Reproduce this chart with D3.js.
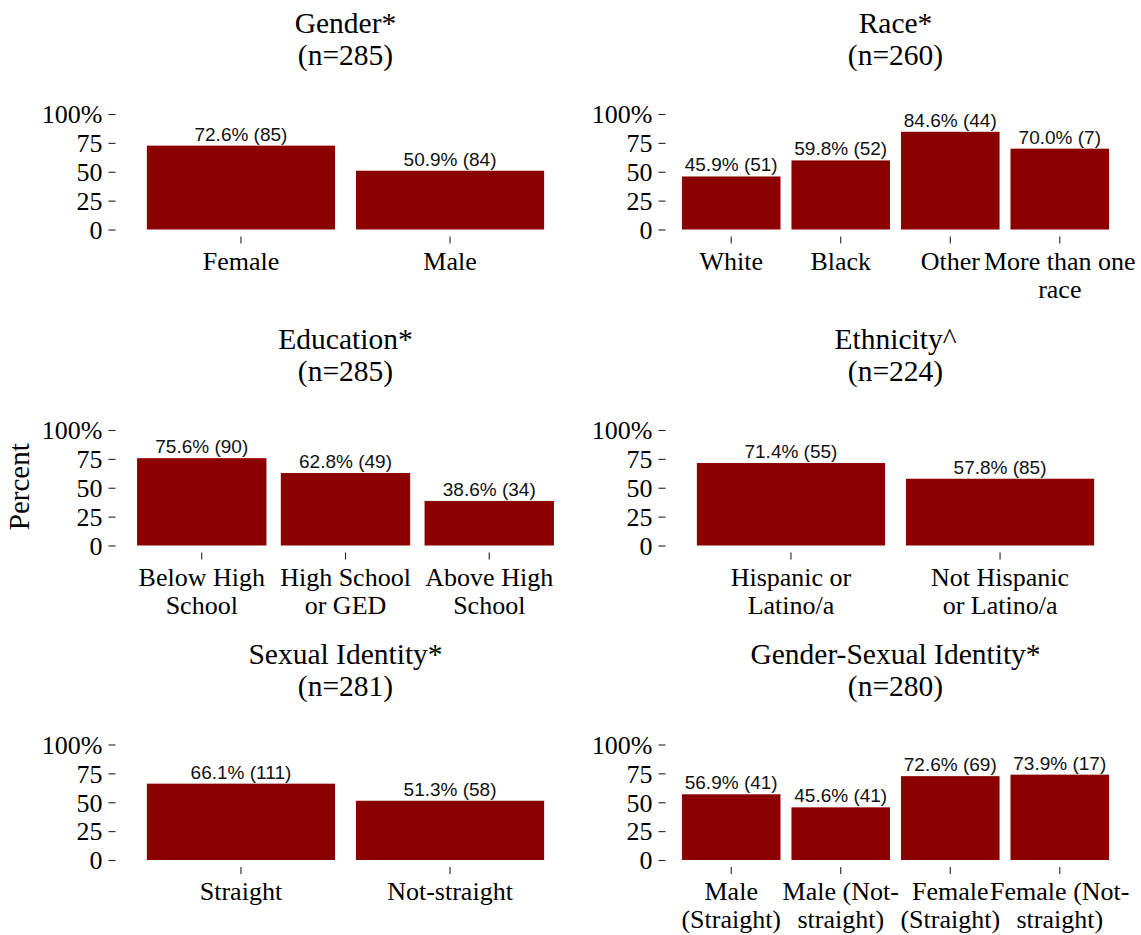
<!DOCTYPE html>
<html>
<head>
<meta charset="utf-8">
<script src="https://cdn.jsdelivr.net/npm/d3@7"></script>
<style>
  html, body { margin: 0; padding: 0; background: #fff; }
  svg { display: block; }
</style>
</head>
<body>
<svg id="chart" width="1141" height="935"></svg>
<script>
// ---- data ----
const genderTitle = "Gender*", genderN = 285;
const genderCats = ["Female", "Male"];
const genderVals = [72.6, 50.9];
const genderCounts = [85, 84];

const raceTitle = "Race*", raceN = 260;
const raceCats = ["White", "Black", "Other", "More than one\nrace"];
const raceVals = [45.9, 59.8, 84.6, 70.0];
const raceCounts = [51, 52, 44, 7];

const eduTitle = "Education*", eduN = 285;
const eduCats = ["Below High\nSchool", "High School\nor GED", "Above High\nSchool"];
const eduVals = [75.6, 62.8, 38.6];
const eduCounts = [90, 49, 34];

const ethTitle = "Ethnicity^", ethN = 224;
const ethCats = ["Hispanic or\nLatino/a", "Not Hispanic\nor Latino/a"];
const ethVals = [71.4, 57.8];
const ethCounts = [55, 85];

const sexTitle = "Sexual Identity*", sexN = 281;
const sexCats = ["Straight", "Not-straight"];
const sexVals = [66.1, 51.3];
const sexCounts = [111, 58];

const gsTitle = "Gender-Sexual Identity*", gsN = 280;
const gsCats = ["Male\n(Straight)", "Male (Not-\nstraight)", "Female\n(Straight)", "Female (Not-\nstraight)"];
const gsVals = [56.9, 45.6, 72.6, 73.9];
const gsCounts = [41, 41, 69, 17];

const yTicks = [0, 25, 50, 75, 100];
const yTickLabels = ["0", "25", "50", "75", "100%"];
const yAxisTitle = "Percent";

// ---- layout ----
const panels = [
  {title: genderTitle, n: genderN, cats: genderCats, vals: genderVals, counts: genderCounts, col: 0, row: 0},
  {title: raceTitle, n: raceN, cats: raceCats, vals: raceVals, counts: raceCounts, col: 1, row: 0},
  {title: eduTitle, n: eduN, cats: eduCats, vals: eduVals, counts: eduCounts, col: 0, row: 1, yTitle: true},
  {title: ethTitle, n: ethN, cats: ethCats, vals: ethVals, counts: ethCounts, col: 1, row: 1},
  {title: sexTitle, n: sexN, cats: sexCats, vals: sexVals, counts: sexCounts, col: 0, row: 2},
  {title: gsTitle, n: gsN, cats: gsCats, vals: gsVals, counts: gsCounts, col: 1, row: 2}
];

const colX = [[115.5, 575.5], [665.5, 1125.5]];
const rowY0 = [229.5, 545.5, 860];
const plotH = 115.5;

const serif = "'Liberation Serif', 'Times New Roman', Times, serif";
const sans = "'Liberation Sans', Arial, Helvetica, sans-serif";
const barColor = "#8B0000";
const tickColor = "#222";

const svg = d3.select("#chart");

panels.forEach(p => {
  const [xl, xr] = colX[p.col];
  const y0 = rowY0[p.row];
  const g = svg.append("g");

  const x = d3.scaleBand().domain(p.cats).range([xl, xr]).paddingInner(0.1).paddingOuter(0.15);
  const y = d3.scaleLinear().domain([0, 100]).range([y0, y0 - plotH]);

  // title
  const cx = (xl + xr) / 2;
  g.append("text").attr("x", cx).attr("y", y0 - 196.5)
    .attr("text-anchor", "middle").style("font-family", serif).style("font-size", "29.5px")
    .text(p.title);
  g.append("text").attr("x", cx).attr("y", y0 - 164.5)
    .attr("text-anchor", "middle").style("font-family", serif).style("font-size", "29.5px")
    .text("(n=" + p.n + ")");

  // y axis
  const yAxis = d3.axisLeft(y).tickValues(yTicks)
    .tickFormat((d, i) => yTickLabels[i]).tickSize(7).tickPadding(6);
  const ya = g.append("g").attr("transform", `translate(${xl},0)`).call(yAxis);
  ya.select(".domain").remove();
  ya.selectAll(".tick line").attr("stroke", tickColor).attr("stroke-width", 1.1);
  ya.selectAll(".tick text").style("font-family", serif).style("font-size", "26px")
    .attr("fill", "#000").attr("dy", "0.34em");

  // x axis
  const xAxis = d3.axisBottom(x).tickSize(7).tickFormat("");
  const xa = g.append("g").attr("transform", `translate(0,${y0 + 7})`).call(xAxis);
  xa.select(".domain").remove();
  xa.selectAll(".tick line").attr("stroke", tickColor).attr("stroke-width", 1.1);

  // category labels (multi-line)
  p.cats.forEach(c => {
    const lines = c.split("\n");
    const t = g.append("text").attr("text-anchor", "middle")
      .style("font-family", serif).style("font-size", "26px").attr("fill", "#000");
    lines.forEach((ln, i) => {
      t.append("tspan").attr("x", x(c) + x.bandwidth() / 2)
        .attr("y", y0 + 40 + i * 28).text(ln);
    });
  });

  // bars
  const data = p.cats.map((c, i) => ({c, v: p.vals[i], n: p.counts[i]}));
  g.selectAll("rect.bar").data(data).join("rect").attr("class", "bar")
    .attr("x", d => x(d.c)).attr("width", x.bandwidth())
    .attr("y", d => y(d.v)).attr("height", d => y(0) - y(d.v))
    .attr("fill", barColor);

  g.selectAll("text.lbl").data(data).join("text").attr("class", "lbl")
    .attr("x", d => x(d.c) + x.bandwidth() / 2).attr("y", d => y(d.v) - 5)
    .attr("text-anchor", "middle").style("font-family", sans).style("font-size", "19px")
    .attr("fill", "#111")
    .text(d => d.v.toFixed(1) + "% (" + d.n + ")");

  if (p.yTitle) {
    const ty = (y(0) + y(100)) / 2 - 1;
    g.append("text").attr("transform", `translate(28.5,${ty}) rotate(-90)`)
      .attr("text-anchor", "middle").style("font-family", serif).style("font-size", "29px")
      .text(yAxisTitle);
  }
});
</script>
</body>
</html>
